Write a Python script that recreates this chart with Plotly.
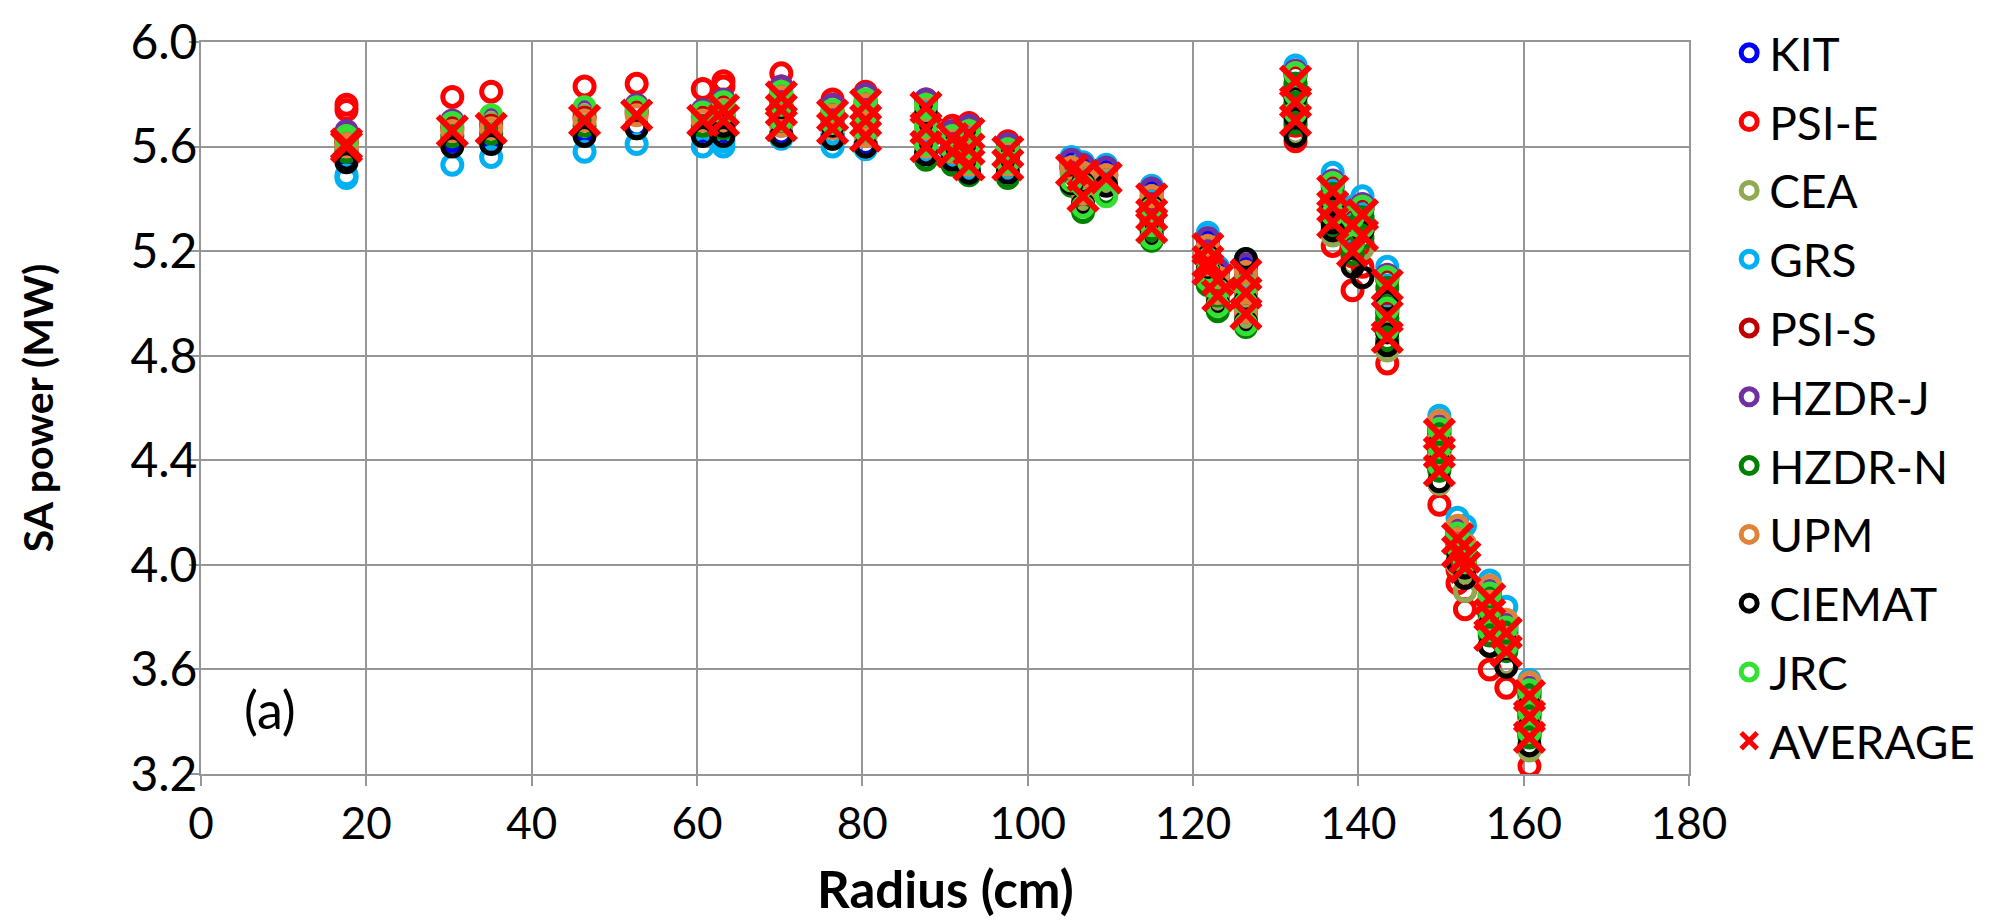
import plotly.graph_objects as go

radius = [17.6, 17.6, 30.4, 35.1, 46.4, 52.7, 60.7, 63.2, 63.2, 70.2, 70.2, 70.2,
          76.4, 76.4, 80.4, 80.4, 80.4, 87.7, 87.7, 87.7, 90.9, 90.9, 92.9, 92.9, 92.9,
          97.6, 97.6, 105.3, 106.7, 106.7, 109.5, 115.0, 115.0, 115.0, 121.8, 121.8, 121.8,
          123.0, 123.0, 126.4, 126.4, 126.4, 132.4, 132.4, 132.4, 136.9, 136.9, 136.9,
          139.3, 139.3, 140.5, 140.5, 143.5, 143.5, 143.5, 149.8, 149.8, 149.8, 152.0, 152.0,
          152.9, 152.9, 155.9, 155.9, 155.9, 157.9, 157.9, 160.7, 160.7, 160.7]

kit = [5.57, 5.56, 5.62, 5.63, 5.66, 5.68, 5.66, 5.70, 5.66, 5.76, 5.71, 5.65, 5.69, 5.64,
       5.73, 5.67, 5.61, 5.74, 5.66, 5.59, 5.62, 5.57, 5.64, 5.58, 5.52, 5.57, 5.52, 5.54,
       5.52, 5.44, 5.51, 5.43, 5.37, 5.32, 5.24, 5.19, 5.16, 5.12, 5.06, 5.14, 5.07, 4.99,
       5.88, 5.80, 5.73, 5.46, 5.40, 5.34, 5.33, 5.23, 5.37, 5.29, 5.10, 4.98, 4.90, 4.51,
       4.44, 4.37, 4.11, 4.06, 4.04, 4.00, 3.88, 3.82, 3.74, 3.75, 3.68, 3.51, 3.43, 3.35]
psi_e = [5.76, 5.74, 5.79, 5.81, 5.83, 5.84, 5.82, 5.85, 5.83, 5.88, 5.83, 5.77, 5.78, 5.73,
         5.81, 5.76, 5.70, 5.78, 5.71, 5.64, 5.68, 5.62, 5.69, 5.63, 5.57, 5.62, 5.57, 5.52,
         5.50, 5.40, 5.49, 5.39, 5.33, 5.28, 5.20, 5.15, 5.12, 5.08, 5.02, 5.10, 5.03, 4.95,
         5.76, 5.68, 5.62, 5.33, 5.27, 5.22, 5.18, 5.05, 5.23, 5.14, 4.96, 4.85, 4.77, 4.38,
         4.31, 4.23, 3.98, 3.93, 3.90, 3.83, 3.75, 3.69, 3.60, 3.62, 3.53, 3.38, 3.30, 3.23]
cea = [5.63, 5.62, 5.68, 5.69, 5.72, 5.74, 5.72, 5.76, 5.72, 5.80, 5.75, 5.69, 5.73, 5.68,
       5.77, 5.71, 5.65, 5.76, 5.68, 5.61, 5.64, 5.59, 5.66, 5.60, 5.54, 5.59, 5.54, 5.50,
       5.48, 5.40, 5.47, 5.39, 5.33, 5.28, 5.20, 5.15, 5.12, 5.08, 5.02, 5.10, 5.03, 4.95,
       5.80, 5.72, 5.65, 5.38, 5.32, 5.26, 5.25, 5.15, 5.29, 5.21, 5.02, 4.90, 4.82, 4.45,
       4.38, 4.31, 4.05, 4.00, 3.98, 3.90, 3.82, 3.76, 3.69, 3.69, 3.62, 3.45, 3.37, 3.29]
grs = [5.49, 5.48, 5.53, 5.56, 5.58, 5.61, 5.60, 5.62, 5.60, 5.73, 5.68, 5.63, 5.65, 5.60,
       5.70, 5.64, 5.59, 5.74, 5.66, 5.59, 5.62, 5.57, 5.64, 5.58, 5.52, 5.57, 5.52, 5.56,
       5.54, 5.46, 5.53, 5.45, 5.39, 5.34, 5.27, 5.21, 5.18, 5.14, 5.08, 5.17, 5.09, 5.01,
       5.91, 5.84, 5.77, 5.50, 5.44, 5.38, 5.37, 5.27, 5.41, 5.33, 5.14, 5.02, 4.94, 4.57,
       4.50, 4.43, 4.18, 4.12, 4.15, 4.06, 3.94, 3.88, 3.80, 3.84, 3.74, 3.56, 3.49, 3.41]
psi_s = [5.62, 5.61, 5.67, 5.68, 5.71, 5.73, 5.71, 5.75, 5.71, 5.80, 5.75, 5.69, 5.73, 5.68,
         5.77, 5.71, 5.65, 5.76, 5.68, 5.61, 5.64, 5.59, 5.66, 5.60, 5.54, 5.59, 5.54, 5.52,
         5.50, 5.42, 5.49, 5.41, 5.35, 5.30, 5.22, 5.17, 5.14, 5.10, 5.04, 5.12, 5.05, 4.97,
         5.87, 5.79, 5.72, 5.45, 5.39, 5.33, 5.32, 5.22, 5.36, 5.28, 5.09, 4.97, 4.89, 4.52,
         4.45, 4.38, 4.12, 4.07, 4.05, 4.01, 3.89, 3.83, 3.75, 3.76, 3.69, 3.52, 3.44, 3.36]
hzdr_j = [5.66, 5.64, 5.70, 5.71, 5.74, 5.76, 5.74, 5.78, 5.74, 5.83, 5.78, 5.72, 5.76, 5.71,
          5.80, 5.74, 5.68, 5.78, 5.70, 5.63, 5.66, 5.61, 5.68, 5.62, 5.56, 5.61, 5.56, 5.55,
          5.53, 5.45, 5.52, 5.44, 5.38, 5.33, 5.25, 5.20, 5.17, 5.13, 5.07, 5.15, 5.08, 5.00,
          5.89, 5.81, 5.74, 5.47, 5.41, 5.35, 5.34, 5.24, 5.38, 5.30, 5.11, 4.99, 4.91, 4.53,
          4.46, 4.39, 4.13, 4.08, 4.06, 4.02, 3.90, 3.84, 3.76, 3.77, 3.70, 3.53, 3.45, 3.37]
hzdr_n = [5.59, 5.58, 5.64, 5.65, 5.68, 5.67, 5.68, 5.72, 5.67, 5.75, 5.70, 5.64, 5.68, 5.63,
          5.72, 5.66, 5.60, 5.70, 5.62, 5.55, 5.58, 5.53, 5.60, 5.54, 5.49, 5.53, 5.48, 5.45,
          5.43, 5.35, 5.42, 5.34, 5.28, 5.24, 5.15, 5.10, 5.07, 5.03, 4.97, 5.05, 4.98, 4.91,
          5.84, 5.76, 5.69, 5.42, 5.36, 5.30, 5.29, 5.19, 5.33, 5.25, 5.06, 4.94, 4.86, 4.50,
          4.43, 4.36, 4.10, 4.05, 4.03, 3.99, 3.87, 3.81, 3.73, 3.74, 3.67, 3.50, 3.42, 3.34]
upm = [5.61, 5.60, 5.66, 5.67, 5.70, 5.72, 5.70, 5.74, 5.70, 5.79, 5.74, 5.68, 5.72, 5.67,
       5.76, 5.70, 5.64, 5.75, 5.67, 5.60, 5.63, 5.58, 5.65, 5.59, 5.53, 5.58, 5.53, 5.52,
       5.50, 5.42, 5.49, 5.41, 5.35, 5.30, 5.22, 5.17, 5.14, 5.10, 5.04, 5.12, 5.05, 4.97,
       5.88, 5.80, 5.73, 5.46, 5.40, 5.34, 5.33, 5.23, 5.37, 5.29, 5.10, 4.98, 4.90, 4.55,
       4.48, 4.41, 4.15, 4.10, 4.08, 4.04, 3.92, 3.86, 3.78, 3.79, 3.72, 3.55, 3.47, 3.39]
ciemat = [5.55, 5.54, 5.60, 5.61, 5.64, 5.67, 5.64, 5.68, 5.64, 5.75, 5.70, 5.64, 5.68, 5.63,
          5.72, 5.66, 5.60, 5.72, 5.64, 5.57, 5.60, 5.55, 5.62, 5.56, 5.50, 5.55, 5.50, 5.46,
          5.46, 5.38, 5.45, 5.37, 5.31, 5.26, 5.18, 5.13, 5.10, 5.06, 5.00, 5.17, 5.01, 4.93,
          5.79, 5.71, 5.64, 5.37, 5.31, 5.28, 5.24, 5.14, 5.28, 5.10, 5.01, 4.89, 4.84, 4.46,
          4.39, 4.32, 4.06, 4.01, 3.99, 3.95, 3.83, 3.77, 3.69, 3.70, 3.61, 3.46, 3.38, 3.31]
jrc = [5.64, 5.63, 5.69, 5.72, 5.75, 5.75, 5.73, 5.77, 5.73, 5.81, 5.76, 5.70, 5.74, 5.69,
       5.78, 5.72, 5.66, 5.76, 5.68, 5.61, 5.64, 5.59, 5.66, 5.60, 5.54, 5.59, 5.54, 5.47,
       5.45, 5.37, 5.41, 5.36, 5.30, 5.25, 5.17, 5.12, 5.09, 5.05, 4.99, 5.07, 5.00, 4.92,
       5.88, 5.80, 5.73, 5.46, 5.40, 5.34, 5.33, 5.23, 5.37, 5.29, 5.10, 4.98, 4.90, 4.52,
       4.45, 4.38, 4.12, 4.07, 4.05, 4.01, 3.89, 3.83, 3.75, 3.76, 3.69, 3.52, 3.44, 3.36]
average = [5.61, 5.60, 5.66, 5.67, 5.70, 5.72, 5.70, 5.74, 5.70, 5.79, 5.74, 5.68, 5.72, 5.67,
           5.76, 5.70, 5.64, 5.75, 5.67, 5.60, 5.63, 5.58, 5.65, 5.59, 5.53, 5.58, 5.53, 5.51,
           5.49, 5.41, 5.48, 5.40, 5.34, 5.29, 5.21, 5.16, 5.13, 5.09, 5.03, 5.11, 5.04, 4.96,
           5.85, 5.77, 5.70, 5.43, 5.37, 5.31, 5.30, 5.20, 5.34, 5.26, 5.07, 4.95, 4.87, 4.50,
           4.43, 4.36, 4.10, 4.05, 4.03, 3.99, 3.87, 3.81, 3.73, 3.74, 3.67, 3.50, 3.42, 3.34]

series = [
    ("KIT", kit, "#0000ff"),
    ("PSI-E", psi_e, "#ff0000"),
    ("CEA", cea, "#8faa50"),
    ("GRS", grs, "#00b0f0"),
    ("PSI-S", psi_s, "#c00000"),
    ("HZDR-J", hzdr_j, "#7030a0"),
    ("HZDR-N", hzdr_n, "#008000"),
    ("UPM", upm, "#e0833a"),
    ("CIEMAT", ciemat, "#000000"),
    ("JRC", jrc, "#33e033"),
]

FONT = "Lato, 'Open Sans', sans-serif"
GRID = "#969696"

fig = go.Figure()
for name, vals, col in series:
    fig.add_trace(go.Scatter(
        x=radius, y=vals, mode="markers", name=name, legendgroup=name,
        marker=dict(symbol="circle-open", size=19, color=col,
                    line=dict(width=5, color=col)),
    ))
fig.add_trace(go.Scatter(
    x=radius, y=average, mode="markers", name="AVERAGE", legendgroup="AVERAGE",
    marker=dict(symbol="x-thin-open", size=29, color="#ff0000",
                line=dict(width=6, color="#ff0000")),
))

fig.add_annotation(x=8.4, y=3.45, xref="x", yref="y", text="(a)", showarrow=False,
                   font=dict(family=FONT, size=52, color="#000000"))
fig.add_annotation(x=0.5, y=-0.156, xref="paper", yref="paper", text="<b>Radius (cm)</b>",
                   showarrow=False, xanchor="center", yanchor="middle",
                   font=dict(family=FONT, size=51, color="#000000"))
fig.add_annotation(x=-0.11, y=0.5, xref="paper", yref="paper", text="<b>SA power (MW)</b>",
                   showarrow=False, xanchor="center", yanchor="middle", textangle=-90,
                   font=dict(family=FONT, size=41, color="#000000"))

fig.update_layout(
    width=2002, height=922, autosize=False,
    paper_bgcolor="white", plot_bgcolor="white",
    margin=dict(l=201, r=313, t=31, b=148),
    font=dict(family=FONT, color="#000000"),
    showlegend=True,
    legend=dict(x=1.027, xanchor="left", y=1.035, yanchor="top",
                font=dict(family=FONT, size=46, color="#000000"),
                traceorder="grouped", tracegroupgap=6, maxheight=1.0,
                bgcolor="rgba(0,0,0,0)"),
)
fig.update_xaxes(
    range=[0, 180], dtick=20, tick0=0,
    showgrid=True, gridcolor=GRID, gridwidth=2,
    showline=True, linecolor=GRID, linewidth=2, mirror=True,
    ticks="outside", ticklen=10, tickwidth=2, tickcolor=GRID,
    tickfont=dict(family=FONT, size=44, color="#000000"),
    zeroline=False,
)
fig.update_yaxes(
    range=[3.2, 6.0], dtick=0.4, tick0=3.2, tickformat=".1f",
    showgrid=True, gridcolor=GRID, gridwidth=2,
    showline=True, linecolor=GRID, linewidth=2, mirror=True,
    ticks="outside", ticklen=10, tickwidth=2, tickcolor=GRID,
    tickfont=dict(family=FONT, size=48, color="#000000"),
    ticklabelstandoff=-18,
    zeroline=False,
)

fig.write_html("out.html")
